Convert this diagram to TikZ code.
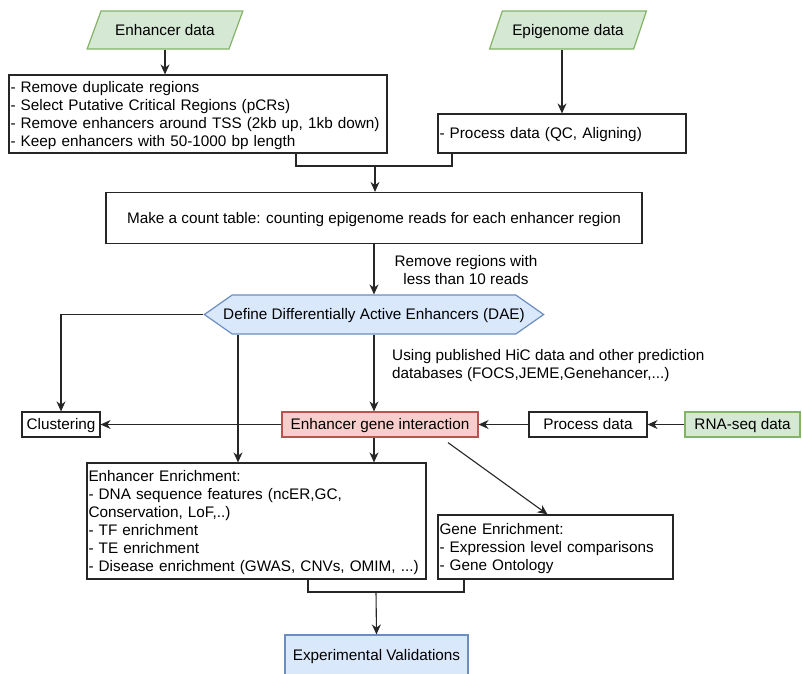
\documentclass[tikz,border=0pt]{standalone}
\usepackage{fontspec}
\setmainfont{Liberation Sans}
\usetikzlibrary{shapes,arrows.meta}
\definecolor{greenfill}{HTML}{D5E8D4}
\definecolor{greenline}{HTML}{82B366}
\definecolor{redfill}{HTML}{F8CECC}
\definecolor{redline}{HTML}{B85450}
\definecolor{bluefill}{HTML}{DAE8FC}
\definecolor{blueline}{HTML}{6C8EBF}
\newcommand\lnstrut{\rule[-3.7pt]{0pt}{18pt}}

\begin{document}
\begin{tikzpicture}[x=1pt,y=-1pt]
\tikzstyle{every node}+=[inner sep=0pt,font=\fontsize{15.3pt}{18pt}\selectfont,execute at begin node=\lnstrut,execute at end node=\lnstrut]
\tikzstyle{box}=[draw=black!85,rectangle,line width=1.2pt]
\tikzstyle{leftbox}=[box,align=left,inner xsep=1.5pt]
\tikzstyle{datain}=[draw=greenline,fill=greenfill,line width=1.2pt,trapezium,trapezium left angle=59,trapezium right angle=121,trapezium stretches=true]
\tikzstyle{arr}=[black!85,line width=1.1pt,-{Stealth[length=10pt,width=9pt]}]
\tikzstyle{ln}=[black!85,line width=1.1pt]
\useasboundingbox (0,0) rectangle (802,673);
\node [datain,minimum width=156,minimum height=38] (enh) at (165,30) {Enhancer data};
\node [datain,minimum width=157,minimum height=38] (epi) at (568,30) {Epigenome data};
\node [leftbox,text width=375,minimum height=78] (filt) at (198,114) {- Remove duplicate regions\\- Select Putative Critical Regions (pCRs)\\- Remove enhancers around TSS (2kb up, 1kb down)\\- Keep enhancers with 50-1000 bp length};
\node [leftbox,text width=245,minimum height=39] (proc) at (562,133.5) {- Process data (QC, Aligning)};
\node [box,minimum width=536,minimum height=51] (count) at (374,218) {Make a count table: counting epigenome reads for each enhancer region};
\node [align=center] (rmlab) at (466,272) {Remove regions with\\less than 10 reads};
\node [signal,signal to=east and west,signal pointer angle=70,draw=blueline,fill=bluefill,line width=1.2pt,inner xsep=-9pt,minimum height=39] (dae) at (374,314.5) {Define Differentially Active Enhancers (DAE)};
\node [align=left,anchor=north west] (hiclab) at (392,349) {Using published HiC data and other prediction\\databases (FOCS,JEME,Genehancer,...)};
\node [box,minimum width=78,minimum height=25] (clust) at (61,424.5) {Clustering};
\node [box,draw=redline,fill=redfill,minimum width=196,minimum height=25] (egi) at (380,424.5) {Enhancer gene interaction};
\node [box,minimum width=118,minimum height=25] (pdat) at (588,424.5) {Process data};
\node [box,draw=greenline,fill=greenfill,minimum width=115,minimum height=25] (rna) at (742.5,424.5) {RNA-seq data};
\node [leftbox,text width=336,minimum height=116] (enr) at (256.5,521) {Enhancer Enrichment:\\- DNA sequence features (ncER,GC,\\Conservation, LoF,..)\\- TF enrichment\\- TE enrichment\\- Disease enrichment (GWAS, CNVs, OMIM, ...)};
\node [leftbox,text width=232,minimum height=64] (gene) at (555.5,547) {Gene Enrichment:\\- Expression level comparisons\\- Gene Ontology};
\node [box,draw=blueline,fill=bluefill,minimum width=183,minimum height=40] (exp) at (376.5,655) {Experimental Validations};
\coordinate (jA) at (375,166);
\coordinate (jB) at (376,592);
\draw [arr] (enh.south) -- (enh.south |- filt.north);
\draw [arr] (proc.north |- epi.south) -- (proc.north);
\draw [ln] ([xshift=98]filt.south) |- (jA) -| ([xshift=-110]proc.south);
\draw [arr] (jA) -- (jA |- count.north);
\draw [arr] (count.south) -- (dae.north);
\draw [arr] (dae.west) -| (clust.north);
\draw [arr] ([xshift=-136]dae.south) -- ([xshift=-136]dae.south |- enr.north);
\draw [arr] (dae.south) -- (dae.south |- egi.north);
\draw [arr] (egi.west) -- (clust.east);
\draw [arr] (rna.west) -- (pdat.east);
\draw [arr] (pdat.west) -- (egi.east);
\draw [arr] (dae.south |- egi.south) -- (dae.south |- enr.north);
\draw [arr] ([xshift=68,yshift=-5]egi.south) -- ([xshift=-8]gene.north);
\draw [ln] ([xshift=51.5]enr.south) |- (jB) -| ([xshift=-91.5]gene.south);
\draw [arr] (jB) -- (exp.north);
\end{tikzpicture}
\end{document}
